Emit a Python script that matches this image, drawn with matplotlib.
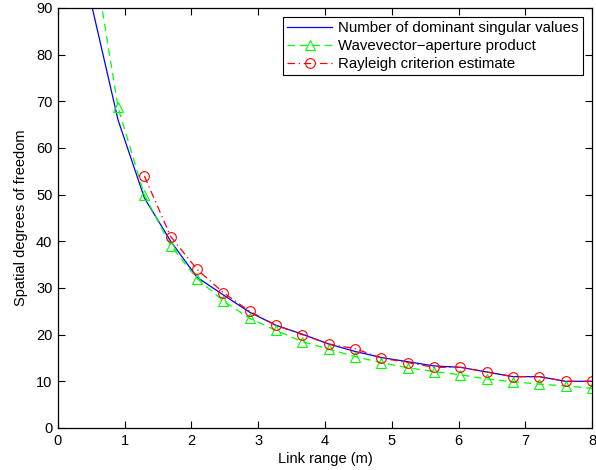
import numpy as np
import matplotlib
matplotlib.use("Agg")
import matplotlib.pyplot as plt

plt.rcParams['font.family'] = ['Liberation Sans', 'DejaVu Sans']

# Link range samples (m)
link_range = [0.506, 0.9, 1.294, 1.689, 2.083, 2.478, 2.872, 3.267, 3.661, 4.056,
              4.450, 4.844, 5.239, 5.633, 6.028, 6.422, 6.817, 7.211, 7.606, 8.0]

dominant_sv = [90.5, 66, 49.3, 40, 32.3, 28.5, 24.8, 22, 20.1, 18,
               16.4, 15.1, 14.2, 13.3, 13, 12, 11, 11, 10, 10]

wavevector_aperture = [103.5, 68.7, 49.9, 39.1, 32.0, 27.2, 23.5, 20.9, 18.5, 16.9,
                       15.3, 14.0, 12.9, 12.1, 11.4, 10.5, 9.9, 9.4, 9.0, 8.5]

rayleigh = [np.nan, np.nan, 54, 41, 34, 29, 25, 22, 20, 18,
            17, 15, 14, 13, 13, 12, 11, 11, 10, 10]

x_ticks = [0, 1, 2, 3, 4, 5, 6, 7, 8]
y_ticks = [0, 10, 20, 30, 40, 50, 60, 70, 80, 90]

fig = plt.figure(figsize=(5.96, 4.70), dpi=100)
ax = fig.add_axes([0.0973, 0.0894, 0.8960, 0.8936])

ax.plot(link_range, dominant_sv, color=(0, 0, 1), lw=0.9, linestyle='-',
        label='Number of dominant singular values')
ax.plot(link_range, wavevector_aperture, color=(0, 1, 0), lw=0.9,
        linestyle=(0, (6, 4)), marker='^', markersize=7, fillstyle='none',
        markeredgewidth=0.8, label='Wavevector\u2212aperture product')
ax.plot(link_range, rayleigh, color=(1, 0, 0), lw=0.9,
        linestyle=(0, (6, 3, 1, 3)), marker='o', markersize=7, fillstyle='none',
        markeredgewidth=0.8, label='Rayleigh criterion estimate')

ax.set_xlim(0, 8)
ax.set_ylim(0, 90)
ax.set_xticks(x_ticks)
ax.set_yticks(y_ticks)
ax.tick_params(direction='in', length=5, width=0.8, top=True, right=True,
               labelsize=10.5, pad=4, colors='black')
for s in ax.spines.values():
    s.set_linewidth(0.9)

ax.set_xlabel('Link range (m)', fontsize=10.5, labelpad=3)
ax.set_ylabel('Spatial degrees of freedom', fontsize=10.5, labelpad=6)

leg = ax.legend(loc='upper right', fontsize=10.8, frameon=True, fancybox=False,
                edgecolor='black', framealpha=1, handlelength=3.0,
                borderaxespad=0.6, borderpad=0.3, labelspacing=0.25,
                handletextpad=0.4)
leg.get_frame().set_linewidth(0.8)

fig.savefig('out.png', dpi=100)
